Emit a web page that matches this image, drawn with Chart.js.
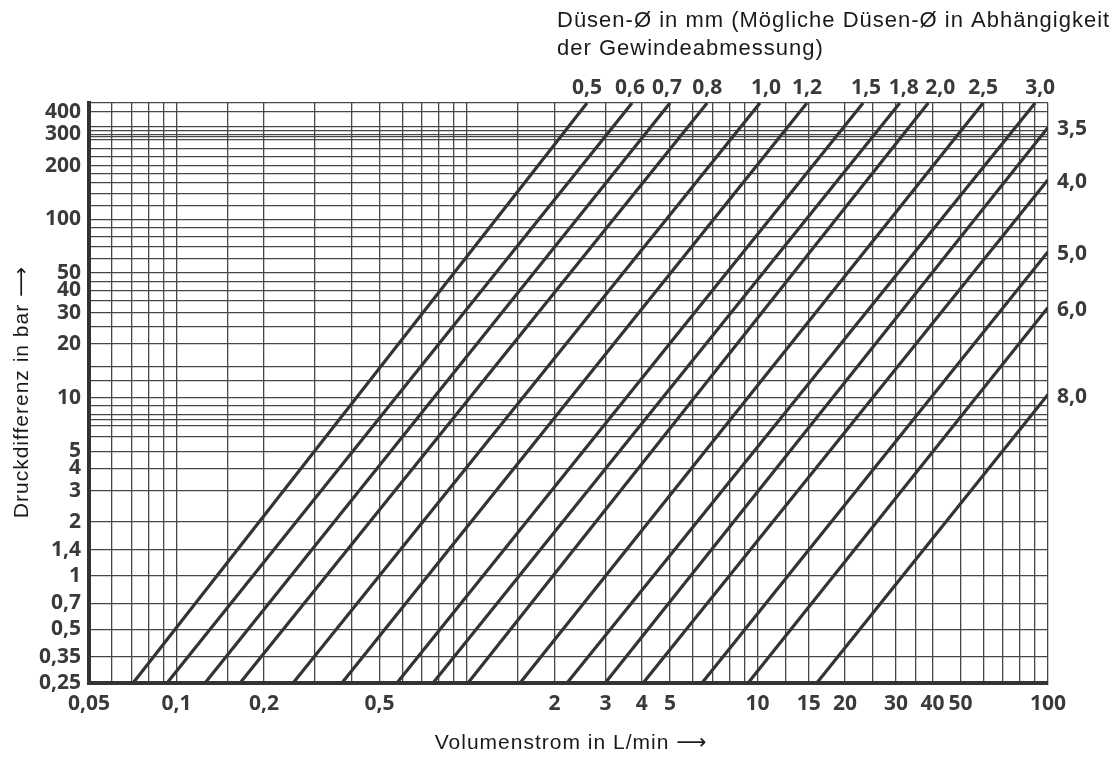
<!DOCTYPE html>
<html lang="de">
<head>
<meta charset="utf-8">
<title>Düsen-Kennlinien</title>
<script src="https://cdn.jsdelivr.net/npm/chart.js@4.4.1/dist/chart.umd.min.js"></script>
<style>
    html, body { margin: 0; padding: 0; background: #fff; }
    #chart { display: block; }
</style>
</head>
<body>
<canvas id="chart" width="1120" height="758"></canvas>
<script>
// Nozzle diameters in mm, as printed at the end of each line
const nozzleLabels = ['0,5', '0,6', '0,7', '0,8', '1,0', '1,2', '1,5', '1,8', '2,0', '2,5', '3,0', '3,5', '4,0', '5,0', '6,0', '8,0'];
// Flow (L/min) where each line starts on the bottom edge (0,25 bar)
const startFlow = [0.0709, 0.0928, 0.1254, 0.1655, 0.252, 0.371, 0.574, 0.764, 1.008, 1.523, 2.21, 2.99, 4.04, 6.44, 9.28, 16.0];
// Where each line leaves the chart: flow (L/min) and pressure difference (bar)
const endFlow = [2.59, 3.70, 5.00, 6.71, 10.2, 14.8, 23.1, 30.9, 38.7, 59.8, 90.3, 100, 100, 100, 100, 100];
const endPressure = [450, 450, 450, 450, 450, 450, 450, 450, 450, 450, 450, 328, 167, 65.9, 32.0, 10.4];

// Axis ranges, grid lines and labelled ticks
const X_MIN = 0.05, X_MAX = 100;
const Y_MIN = 0.25, Y_MAX = 450;
const xGridValues = [0.05, 0.06, 0.07, 0.08, 0.09, 0.1, 0.15, 0.2, 0.3, 0.4, 0.5, 0.6, 0.7, 0.8, 0.9, 1, 1.5, 2, 3, 4, 5, 6, 7, 8, 9, 10, 12.5, 15, 20, 25, 30, 35, 40, 50, 60, 70, 80, 90, 100];
const xLabelValues = [0.05, 0.1, 0.2, 0.5, 2, 3, 4, 5, 10, 15, 20, 30, 40, 50, 100];
const yGridValues = [0.25, 0.35, 0.5, 0.7, 1, 1.4, 2, 3, 4, 5, 6, 7, 7.5, 8, 9, 10, 12.5, 15, 20, 25, 30, 35, 40, 45, 50, 60, 70, 80, 90, 100, 120, 140, 160, 180, 200, 225, 250, 280, 290, 300, 315, 330, 400, 450];
const yLabelValues = [0.25, 0.35, 0.5, 0.7, 1, 1.4, 2, 3, 4, 5, 10, 20, 30, 40, 50, 100, 200, 300, 400];

const INK = '#333333';
const GRID = '#474747';
const LABEL_FONT = '"Open Sans", "DejaVu Sans", sans-serif';
const TITLE_FONT = '"Liberation Sans", Arial, "DejaVu Sans", sans-serif';

// Top labels that sit a bit right of their line end so they don't collide (px)
const topLabelNudge = { '0,6': -2, '0,7': -3, '1,0': 6, '1,5': 3, '1,8': 4, '2,0': 12, '3,0': 5 };

const fmt = v => String(v).replace('.', ',');

/**
 * Builds one straight dataset per nozzle, from its start to its end point.
 */
function buildDatasets() {
    return nozzleLabels.map((label, i) => ({
        label: label,
        data: [
            { x: startFlow[i], y: Y_MIN },
            { x: endFlow[i], y: endPressure[i] }
        ],
        showLine: true,
        borderColor: INK,
        borderWidth: 3.2,
        pointRadius: 0,
        borderCapStyle: 'butt'
    }));
}

function axis(min, max, gridValues, labelValues, extra) {
    return Object.assign({
        type: 'logarithmic',
        min: min,
        max: max,
        afterBuildTicks: scale => {
            scale.ticks = gridValues.map(v => ({ value: v }));
        },
        ticks: {
            autoSkip: false,
            maxRotation: 0,
            minRotation: 0,
            padding: 8,
            color: '#3a3a3a',
            font: { family: LABEL_FONT, size: 21, weight: 'bold' },
            callback: value => labelValues.includes(value) ? fmt(value) : ''
        },
        grid: { color: GRID, lineWidth: 1.3, drawTicks: false },
        border: { display: true, color: INK, width: 4 }
    }, extra);
}

// Nozzle labels at the line ends plus all axis titles
const annotationPlugin = {
    id: 'annotations',
    afterDatasetsDraw(chart) {
        const { ctx, chartArea, scales } = chart;
        ctx.save();

        ctx.fillStyle = '#3a3a3a';
        ctx.font = 'bold 21px ' + LABEL_FONT;
        ctx.textBaseline = 'middle';
        nozzleLabels.forEach((label, i) => {
            if (endPressure[i] >= Y_MAX) {
                ctx.textAlign = 'center';
                const x = scales.x.getPixelForValue(endFlow[i]) + (topLabelNudge[label] || 0);
                ctx.fillText(label, x, chartArea.top - 15);
            } else {
                ctx.textAlign = 'left';
                ctx.fillText(label, chartArea.right + 9, scales.y.getPixelForValue(endPressure[i]) + 2);
            }
        });

        ctx.fillStyle = '#1a1a1a';
        ctx.letterSpacing = '1px';
        ctx.textAlign = 'left';
        ctx.font = '22px ' + TITLE_FONT;
        ctx.fillText('Düsen-Ø in mm (Mögliche Düsen-Ø in Abhängigkeit', 557, 21);
        ctx.fillText('der Gewindeabmessung)', 557, 49);

        ctx.font = '21px ' + TITLE_FONT;
        ctx.textAlign = 'center';
        ctx.fillText('Volumenstrom in L/min \u27F6', 571, 743);

        ctx.translate(22, 392);
        ctx.rotate(-Math.PI / 2);
        ctx.fillText('Druckdifferenz in bar \u27F6', 0, 0);
        ctx.restore();
    }
};

new Chart(document.getElementById('chart'), {
    type: 'scatter',
    data: { datasets: buildDatasets() },
    options: {
        responsive: false,
        animation: false,
        layout: { padding: { top: 103, right: 72, bottom: 0, left: 0 } },
        plugins: { legend: { display: false }, tooltip: { enabled: false } },
        scales: {
            x: axis(X_MIN, X_MAX, xGridValues, xLabelValues, {
                afterFit: scale => { scale.height = 75; }
            }),
            y: axis(Y_MIN, Y_MAX, yGridValues, yLabelValues, {
                afterFit: scale => { scale.width = 89; }
            })
        }
    },
    plugins: [annotationPlugin]
});
</script>
</body>
</html>
